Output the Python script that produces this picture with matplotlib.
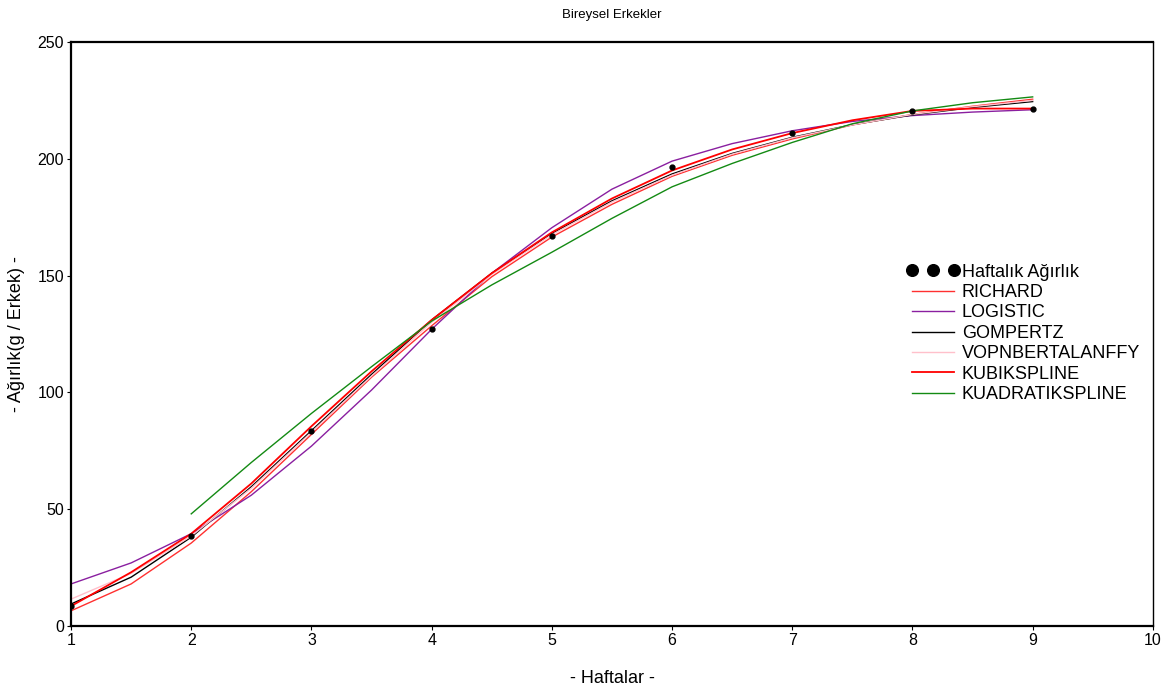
import numpy as np
import matplotlib.pyplot as plt

plt.rcParams['font.family'] = ['Liberation Sans', 'DejaVu Sans']

# haftalik olculen agirliklar
hafta = [1, 2, 3, 4, 5, 6, 7, 8, 9]
agirlik = [8.5, 38.5, 83.5, 127, 167, 196.5, 211, 220.5, 221.5]

# model egrileri (0.5 haftalik adimlarla okunan degerler)
x_model = [1, 1.5, 2, 2.5, 3, 3.5, 4, 4.5, 5, 5.5, 6, 6.5, 7, 7.5, 8, 8.5, 9]
richard = [6.5, 18, 35.5, 57.5, 82, 106.5, 128.5, 149.5, 166.5, 180.5, 192.5,
           201.5, 208.5, 214.5, 219, 222.5, 225.5]
logistic = [18, 27, 39.5, 56, 77, 101, 127, 151, 170.5, 187, 199, 206.5,
            212, 216, 218.5, 220, 221]
gompertz = [9.4, 20.9, 38, 59.6, 83.6, 107.7, 131, 151, 168, 182, 193.5,
            202.3, 209.2, 214.6, 218.8, 222, 224.5]
bertalanffy = [11.5, 22.5, 38.5, 59, 83, 107, 130, 150.5, 167.5, 181.5, 193,
               202, 209, 214.5, 219, 222.3, 225]
kubik = [8.5, 23, 39.5, 61, 85.5, 109, 131, 151, 168.5, 183, 195, 204, 211,
         216.5, 220.5, 221.5, 221.5]
x_kuadratik = [2, 2.5, 3, 3.5, 4, 4.5, 5, 5.5, 6, 6.5, 7, 7.5, 8, 8.5, 9]
kuadratik = [48, 70, 91, 111, 130.5, 146, 160, 174.5, 188, 198, 207, 215,
             220.5, 224, 226.5]

fig = plt.figure(figsize=(11.74, 6.93), dpi=100)
ax = fig.add_axes([0.0605, 0.0967, 0.9215, 0.8427])

ax.plot(x_model, richard, color='#ff3030', lw=1.0, label='RICHARD')
ax.plot(x_model, logistic, color='#8a1fa0', lw=1.0, label='LOGISTIC')
ax.plot(x_model, gompertz, color='black', lw=1.0, label='GOMPERTZ')
ax.plot(x_model, bertalanffy, color='#ffc0cb', lw=1.0, label='VOPNBERTALANFFY')
ax.plot(x_model, kubik, color='#ff0000', lw=1.3, label='KUBIKSPLINE')
ax.plot(x_kuadratik, kuadratik, color='#138a13', lw=1.0, label='KUADRATIKSPLINE')
ax.plot(hafta, agirlik, 'o', color='black', ms=3.5, ls='none',
        label='Haftalık Ağırlık', zorder=5)

ax.set_xlim(1, 10)
ax.set_ylim(0, 250)
ax.set_xticks(range(1, 11))
ax.set_yticks([0, 50, 100, 150, 200, 250])
ax.tick_params(labelsize=11.5, length=3, pad=2)
for s in ax.spines.values():
    s.set_linewidth(1.6)
ax.spines['right'].set_linewidth(1.0)

ax.set_title('Bireysel Erkekler', fontsize=9.5, pad=17.5)
ax.set_xlabel('- Haftalar -', fontsize=13, labelpad=16)
ax.set_ylabel('- Ağırlık(g / Erkek) -', fontsize=13, labelpad=9)

# lejant: once olculen noktalar
h, l = ax.get_legend_handles_labels()
h = [h[-1]] + h[:-1]
l = [l[-1]] + l[:-1]
ax.legend(h, l, loc='upper left', bbox_to_anchor=(0.764, 0.636), frameon=False,
          fontsize=13, numpoints=3, markerscale=2.4, handlelength=2.95,
          handletextpad=0.1, labelspacing=0.19, borderpad=0)

fig.savefig('out.png', dpi=100)
